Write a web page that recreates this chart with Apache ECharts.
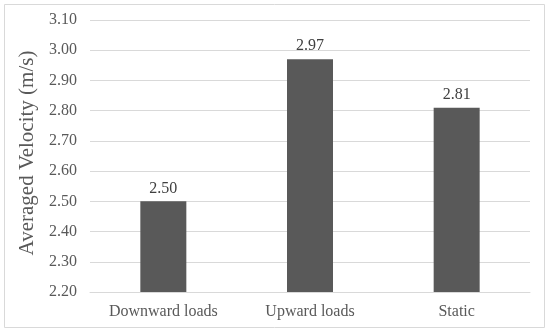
<!DOCTYPE html>
<html><head><meta charset="utf-8">
<script src="https://cdn.jsdelivr.net/npm/echarts@6/dist/echarts.min.js"></script>
<style>html,body{margin:0;padding:0;background:#fff}#c{width:550px;height:333px}</style>
</head><body><div id="c"></div>
<script>
const categories = ['Downward loads', 'Upward loads', 'Static'];
const values = [2.50, 2.97, 2.81];
const yMin = 2.2, yMax = 3.1, yStep = 0.1;
const chart = echarts.init(document.getElementById('c'));
const font = '"Liberation Serif", "Times New Roman", serif';
chart.setOption({
  animation: false,
  graphic: [{type:'rect', shape:{x:4.5,y:4.5,width:540,height:323}, style:{fill:'none', stroke:'#d9d9d9', lineWidth:1}, silent:true}],
  grid: {left: 90, right: 20, top: 20, bottom: 41},
  xAxis: {type:'category', data: categories,
    axisLine:{show:true, lineStyle:{color:'#d9d9d9'}}, axisTick:{show:false},
    axisLabel:{color:'#595959', fontFamily:font, fontSize:16, margin:12}},
  yAxis: {type:'value', min:yMin, max:yMax, interval:yStep,
    name:'Averaged Velocity (m/s)', nameLocation:'middle', nameGap:50,
    nameTextStyle:{color:'#595959', fontFamily:font, fontSize:21, padding:[0,0,0,6]},
    axisLine:{show:false}, axisTick:{show:false},
    splitLine:{lineStyle:{color:'#d9d9d9'}},
    axisLabel:{color:'#595959', fontFamily:font, fontSize:16, margin:13, formatter: v => v.toFixed(2)}},
  series: [{type:'bar', data: values, barWidth:46,
    itemStyle:{color:'#595959'},
    label:{show:true, position:'top', distance:5, color:'#404040', fontFamily:font, fontSize:16, formatter: p => p.value.toFixed(2)}}]
});
</script></body></html>
